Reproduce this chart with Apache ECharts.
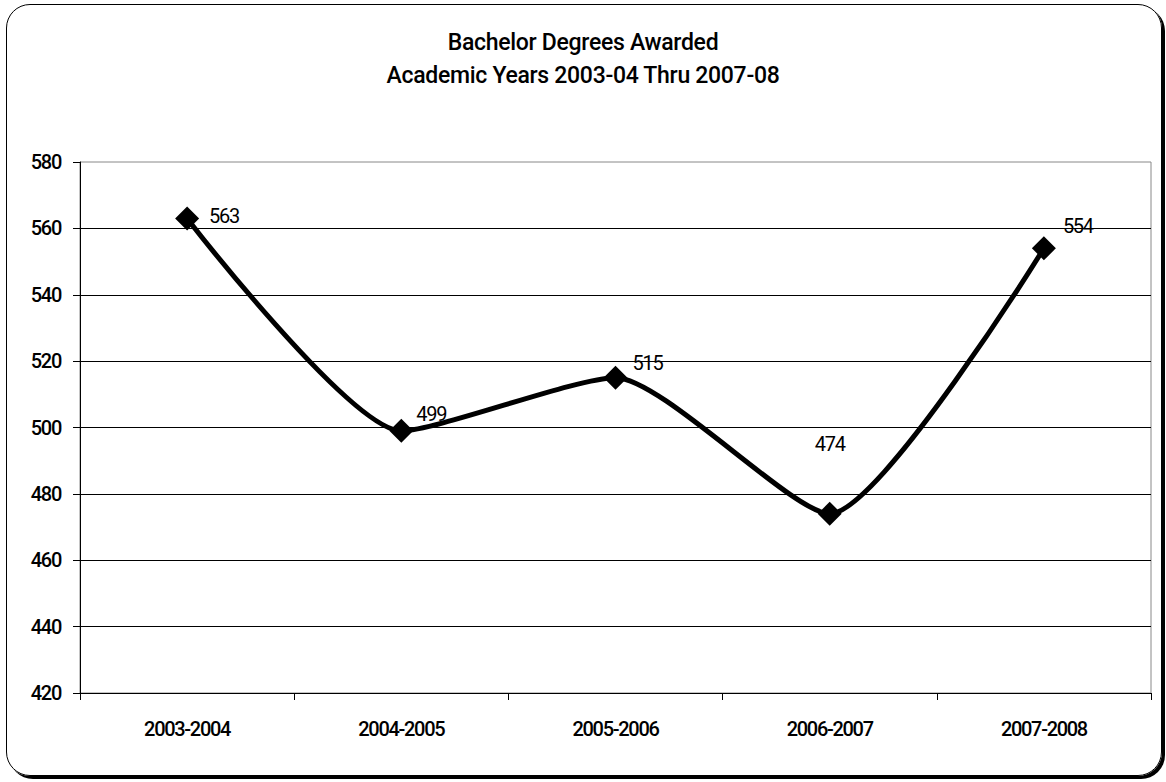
<!DOCTYPE html>
<html>
<head>
<meta charset="utf-8">
<script src="https://cdn.jsdelivr.net/npm/echarts@6/dist/echarts.min.js"></script>
<style>
	html, body { margin: 0; padding: 0; background: #fff; }
	#frame {
		position: absolute; left: 6px; top: 4px; width: 1154px; height: 770px;
		border: 1.5px solid #000; border-radius: 24px;
		box-shadow: 3px 3px 0 #000;
	}
	#chart { position: absolute; left: 0; top: 0; width: 1166px; height: 782px; }
</style>
</head>
<body>
<div id="frame"></div>
<div id="chart"></div>
<script>
const years = ["2003-2004", "2004-2005", "2005-2006", "2006-2007", "2007-2008"];
const degrees = [563, 499, 515, 474, 554];
const titleLines = ["Bachelor Degrees Awarded", "Academic Years 2003-04 Thru 2007-08"];

const font = "Roboto, 'DejaVu Sans Condensed', sans-serif";

// label placement per point (the original nudges some of them)
const labelOffsets = [[0, -2], [-7, -17], [-5, -15], [0, -38], [-3, -22]];
const labelPositions = ["right", "right", "right", "top", "right"];

const chart = echarts.init(document.getElementById("chart"), null, { renderer: "svg" });

chart.setOption({
	animation: false,
	title: {
		text: titleLines.join("\n"),
		left: "center",
		top: 21,
		textStyle: {
			fontFamily: font,
			fontSize: 23,
			fontWeight: 500,
			color: "#000",
			lineHeight: 33
		}
	},
	grid: {
		left: 80,
		right: 15,
		top: 162,
		bottom: 89,
		show: true,
		borderColor: "#888",
		borderWidth: 1
	},
	xAxis: {
		type: "category",
		data: years,
		boundaryGap: true,
		axisLine: { lineStyle: { color: "#000", width: 1 } },
		axisTick: { show: true, interval: 0, length: 7, lineStyle: { color: "#000" } },
		axisLabel: {
			margin: 26,
			fontFamily: font,
			fontSize: 20,
			fontWeight: 500,
			color: "#000"
		}
	},
	yAxis: {
		type: "value",
		min: 420,
		max: 580,
		interval: 20,
		axisLine: { show: true, lineStyle: { color: "#000", width: 1 } },
		axisTick: { show: true, length: 7, lineStyle: { color: "#000" } },
		axisLabel: {
			margin: 19,
			fontFamily: font,
			fontSize: 20,
			fontWeight: 500,
			color: "#000"
		},
		splitLine: { show: true, showMaxLine: false, lineStyle: { color: "#000", width: 1 } }
	},
	series: [{
		type: "line",
		data: degrees.map((v, i) => ({
			value: v,
			label: { position: labelPositions[i], offset: labelOffsets[i] }
		})),
		smooth: 0.2,
		symbol: "diamond",
		symbolSize: 24,
		showAllSymbol: true,
		lineStyle: { color: "#000", width: 5 },
		itemStyle: { color: "#000" },
		label: {
			show: true,
			fontFamily: font,
			fontSize: 20,
			color: "#000",
			distance: 10
		}
	}]
});

// the original face is a narrow one: tighten the text a bit
document.querySelectorAll("#chart svg text").forEach(t => {
	const isTitle = titleLines.includes(t.textContent.trim());
	t.style.letterSpacing = isTitle ? "-0.3px" : "-1.3px";
});
</script>
</body>
</html>
